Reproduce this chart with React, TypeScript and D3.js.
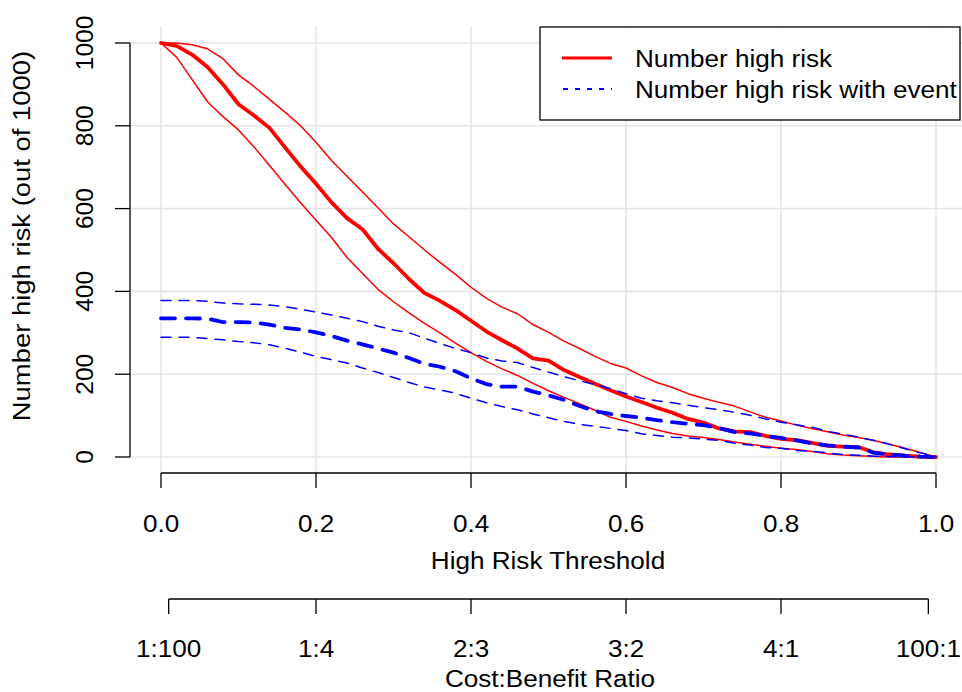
import React from "react";
import * as d3 from "d3";

const thresholds = d3.range(0, 51).map((i) => i / 50);

const highRisk = [1000, 993, 972, 942, 900, 852, 825, 795, 748, 702, 660, 615, 577, 550, 503, 468, 430, 396, 377, 355, 329, 303, 282, 262, 238, 233, 210, 193, 177, 161, 146, 133, 119, 107, 92, 83, 69, 62, 60, 51, 44, 41, 34, 27, 25, 24, 11, 6, 3, 1, 0];
const highRiskUpper = [1000, 1000, 996, 986, 962, 923, 895, 864, 833, 800, 760, 716, 678, 640, 602, 563, 532, 500, 470, 441, 410, 383, 362, 346, 320, 301, 280, 262, 243, 226, 215, 196, 180, 168, 153, 142, 132, 123, 109, 96, 87, 77, 69, 61, 53, 47, 40, 31, 21, 11, 0];
const highRiskLower = [1000, 966, 912, 858, 822, 790, 749, 704, 659, 614, 572, 530, 482, 443, 405, 375, 348, 323, 300, 275, 252, 231, 213, 197, 178, 160, 144, 129, 113, 96, 86, 75, 65, 57, 51, 47, 42, 36, 31, 26, 21, 18, 13, 8, 5, 3, 1, 0, 0, 0, 0];
const withEvent = [335, 335, 335, 334, 326, 326, 325, 320, 312, 308, 301, 292, 281, 272, 262, 252, 239, 225, 218, 207, 190, 176, 170, 170, 158, 149, 138, 123, 111, 104, 99, 95, 89, 84, 80, 77, 70, 60, 57, 51, 46, 40, 33, 28, 25, 23, 10, 6, 3, 1, 0];
const withEventUpper = [378, 378, 378, 376, 372, 370, 369, 367, 363, 357, 350, 343, 335, 327, 316, 307, 300, 287, 274, 262, 252, 239, 232, 228, 216, 205, 194, 184, 175, 165, 153, 142, 136, 131, 125, 119, 114, 108, 101, 92, 84, 78, 72, 62, 55, 48, 40, 31, 20, 10, 0];
const withEventLower = [289, 289, 289, 286, 283, 279, 276, 271, 263, 253, 243, 235, 227, 215, 204, 192, 180, 169, 162, 154, 142, 131, 122, 114, 104, 95, 86, 79, 74, 69, 64, 56, 52, 48, 46, 43, 40, 33, 29, 23, 21, 16, 14, 10, 6, 4, 2, 1, 0, 0, 0];

const xTicks = [0, 0.2, 0.4, 0.6, 0.8, 1.0];
const yTicks = [0, 200, 400, 600, 800, 1000];
const cbLabels = ["1:100", "1:4", "2:3", "3:2", "4:1", "100:1"];
const legendLabels = ["Number high risk", "Number high risk with event"];

const FONT = "'Liberation Sans', Arial, Helvetica, sans-serif";
const FS = 24.5;
const SX = 1.065;

function HText({ x, y, children, anchor = "middle" }: any) {
  return (
    <g transform={`translate(${x},${y}) scale(${SX},1)`}>
      <text x={0} y={0} textAnchor={anchor} fontSize={FS} fontFamily={FONT} fill="#000">
        {children}
      </text>
    </g>
  );
}

export default function App() {
  const W = 962;
  const H = 692;
  const x = d3.scaleLinear().domain([0, 1]).range([161, 936]);
  const y = d3.scaleLinear().domain([0, 1000]).range([457, 43]);
  const plotLeft = 130;
  const plotRight = 967;
  const plotTop = 26.4;
  const plotBottom = 473.6;

  const line = (vals: number[]) =>
    d3
      .line<number>()
      .x((_, i) => x(thresholds[i]))
      .y((d) => y(d))(vals) as string;

  const cbPos = cbLabels.map((l) => {
    const [a, b] = l.split(":").map(Number);
    return a / (a + b);
  });

  const axisY = 473;
  const axis2Y = 599;
  const grid = "#e6e6e6";

  return (
    <svg width={W} height={H} style={{ position: "absolute", left: 0, top: 0, background: "#fff" }}>
      <rect x={0} y={0} width={W} height={H} fill="#fff" />
      {/* grid */}
      {xTicks.map((t) => (
        <line key={"gx" + t} x1={x(t)} x2={x(t)} y1={plotTop} y2={plotBottom} stroke={grid} strokeWidth={1.6} />
      ))}
      {yTicks.map((t) => (
        <line key={"gy" + t} x1={plotLeft} x2={plotRight} y1={y(t)} y2={y(t)} stroke={grid} strokeWidth={1.6} />
      ))}

      {/* red curves */}
      <path d={line(highRiskUpper)} fill="none" stroke="#ff0000" strokeWidth={1.5} strokeLinejoin="round" />
      <path d={line(highRiskLower)} fill="none" stroke="#ff0000" strokeWidth={1.5} strokeLinejoin="round" />
      <path d={line(highRisk)} fill="none" stroke="#ff0000" strokeWidth={3.8} strokeLinejoin="round" strokeLinecap="round" />

      {/* blue curves */}
      <path d={line(withEventUpper)} fill="none" stroke="#0000ff" strokeWidth={1.5} strokeDasharray="10 8" strokeLinecap="round" />
      <path d={line(withEventLower)} fill="none" stroke="#0000ff" strokeWidth={1.5} strokeDasharray="10 8" strokeLinecap="round" />
      <path d={line(withEvent)} fill="none" stroke="#0000ff" strokeWidth={3.8} strokeDasharray="14 11" strokeLinecap="round" />

      {/* y axis */}
      <line x1={plotLeft} x2={plotLeft} y1={y(0)} y2={y(1000)} stroke="#000" strokeWidth={1.3} />
      {yTicks.map((t) => (
        <g key={"yt" + t}>
          <line x1={plotLeft - 15} x2={plotLeft} y1={y(t)} y2={y(t)} stroke="#000" strokeWidth={1.3} />
          <text
            transform={`translate(93,${y(t)}) rotate(-90)`}
            textAnchor="middle"
            fontSize={FS}
            fontFamily={FONT}
          >
            {t}
          </text>
        </g>
      ))}
      <text
        transform={`translate(30,236) rotate(-90) scale(1.12,1)`}
        textAnchor="middle"
        fontSize={FS}
        fontFamily={FONT}
      >
        Number high risk (out of 1000)
      </text>

      {/* x axis */}
      <line x1={x(0)} x2={x(1)} y1={axisY} y2={axisY} stroke="#000" strokeWidth={1.3} />
      {xTicks.map((t) => (
        <g key={"xt" + t}>
          <line x1={x(t)} x2={x(t)} y1={axisY} y2={axisY + 15} stroke="#000" strokeWidth={1.3} />
          <HText x={x(t)} y={532}>{t.toFixed(1)}</HText>
        </g>
      ))}
      <HText x={548} y={569}>High Risk Threshold</HText>

      {/* cost:benefit axis */}
      <line x1={x(cbPos[0])} x2={x(cbPos[cbPos.length - 1])} y1={axis2Y} y2={axis2Y} stroke="#000" strokeWidth={1.3} />
      {cbLabels.map((l, i) => (
        <g key={"cb" + l}>
          <line x1={x(cbPos[i])} x2={x(cbPos[i])} y1={axis2Y} y2={axis2Y + 15} stroke="#000" strokeWidth={1.3} />
          <HText x={x(cbPos[i])} y={657}>{l}</HText>
        </g>
      ))}
      <HText x={550} y={687}>Cost:Benefit Ratio</HText>

      {/* legend */}
      <rect x={540} y={27} width={420} height={93} fill="#fff" stroke="#000" strokeWidth={1.3} />
      <line x1={562} x2={612} y1={58} y2={58} stroke="#ff0000" strokeWidth={3} />
      <line x1={563} x2={612} y1={89} y2={89} stroke="#0000ff" strokeWidth={1.8} strokeDasharray="5 7" />
      <HText x={635} y={67} anchor="start">{legendLabels[0]}</HText>
      <HText x={635} y={97.5} anchor="start">{legendLabels[1]}</HText>
    </svg>
  );
}
